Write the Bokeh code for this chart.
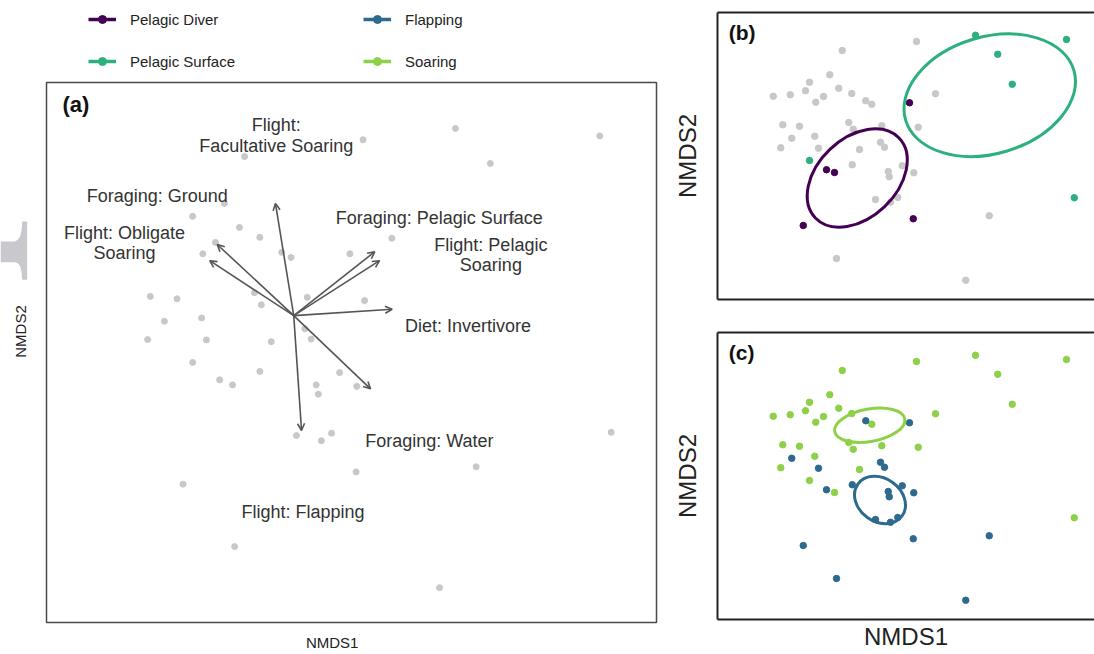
from bokeh.plotting import figure
from bokeh.models import (ColumnDataSource, Range1d, Legend, LegendItem, Arrow, OpenHead,
                          FixedTicker, LinearAxis)
from bokeh.layouts import row, column
from bokeh.core.properties import value
from bokeh.embed import file_html
from bokeh.resources import INLINE
import math

FONT = "Liberation Sans"

# ---------------- Panel (a): species scores + trait vectors ----------------
a_nmds1 = [0.231, -0.164, -0.231, -0.337, -0.181, -0.113, -0.261, -0.303, -0.040, -0.009,
           0.187, -0.478, -0.389, -0.131, -0.108, 0.045, 0.236, -0.307, -0.431, 0.037,
           -0.487, -0.291, -0.075, 0.058, 0.539, 1.020, 0.655, 0.728, 0.327, -0.337,
           -0.247, -0.204, -0.113, 0.153, 0.075, 0.082, 0.210, 0.009, 0.092, 0.126,
           0.208, -0.369, -0.197, 1.058, 0.608, 0.486]
a_nmds2 = [0.586, 0.530, 0.374, 0.331, 0.294, 0.261, 0.244, 0.206, 0.211, 0.194,
           0.206, 0.064, 0.056, 0.076, 0.036, 0.061, 0.050, -0.008, -0.019, -0.044,
           -0.080, -0.081, -0.087, -0.078, 0.624, 0.599, 0.507, 0.319, 0.258, -0.156,
           -0.214, -0.231, -0.186, -0.190, -0.231, -0.262, -0.236, -0.400, -0.417, -0.392,
           -0.521, -0.562, -0.770, -0.389, -0.504, -0.907]

vec_names = ["Flight:\nFacultative Soaring", "Foraging: Ground", "Flight: Obligate\nSoaring",
             "Foraging: Pelagic Surface", "Flight: Pelagic\nSoaring", "Diet: Invertivore",
             "Foraging: Water", "Flight: Flapping"]
vec_nmds1 = [-0.061, -0.255, -0.280, 0.270, 0.286, 0.328, 0.256, 0.026]
vec_nmds2 = [0.374, 0.237, 0.183, 0.213, 0.183, 0.021, -0.244, -0.383]
vec_label_x = [-0.058, -0.455, -0.564, 0.485, 0.657, 0.581, 0.452, 0.031]
vec_label_y = [0.600, 0.400, 0.243, 0.327, 0.203, -0.033, -0.417, -0.653]

# ---------------- Panels (b) and (c): same ordination, two groupings ----------------
bc_nmds1 = [0.064, -0.233, -0.283, -0.364, -0.380, -0.247, -0.195, -0.509, -0.441, -0.308,
            -0.339, -0.139, -0.115, 0.140, -0.471, -0.404, -0.207, -0.189, -0.075, 0.071,
            -0.435, -0.343, -0.479, -0.328, -0.164, -0.080, -0.064, -0.193, 0.007, 0.053,
            -0.049, -0.045, -0.100, -0.040, -0.011, 0.355, -0.256, 0.261, 0.036, -0.296,
            -0.264, -0.389, 0.051, 0.300, 0.664, 0.389, 0.447, -0.364, 0.695]
bc_nmds2 = [0.456, 0.420, 0.323, 0.293, 0.259, 0.269, 0.248, 0.237, 0.243, 0.236,
            0.213, 0.219, 0.205, 0.247, 0.123, 0.117, 0.132, 0.105, 0.119, 0.113,
            0.069, 0.077, 0.031, 0.029, 0.024, 0.053, 0.033, -0.037, -0.041, -0.069,
            -0.064, -0.085, -0.176, -0.187, -0.168, -0.241, -0.412, -0.499, 0.211, -0.057,
            -0.068, -0.280, -0.253, 0.481, 0.464, 0.405, 0.285, -0.020, -0.169]
# O = other, D = Pelagic Diver, S = Pelagic Surface
bc_diet = ["O", "O", "O", "O", "O", "O", "O", "O", "O", "O",
           "O", "O", "O", "O", "O", "O", "O", "O", "O", "O",
           "O", "O", "O", "O", "O", "O", "O", "O", "O", "O",
           "O", "O", "O", "O", "O", "O", "O", "O", "D", "D",
           "D", "D", "D", "S", "S", "S", "S", "S", "S"]
# F = Flapping, S = Soaring
bc_flight = ["S", "S", "S", "S", "S", "S", "S", "S", "S", "S",
             "S", "F", "S", "S", "S", "S", "S", "S", "S", "S",
             "F", "S", "S", "F", "S", "F", "F", "F", "F", "F",
             "F", "F", "F", "F", "F", "F", "F", "F", "F", "F",
             "S", "F", "F", "S", "S", "S", "S", "S", "S"]

diet_groups = ["Pelagic Diver", "Pelagic Surface"]
diet_codes = ["D", "S"]
diet_ell_x = [-0.173, 0.357]
diet_ell_y = [-0.090, 0.241]
diet_ell_w = [0.463, 0.702]
diet_ell_h = [0.317, 0.467]
diet_ell_angle = [0.763, 0.288]

flight_groups = ["Soaring", "Flapping"]
flight_codes = ["S", "F"]
flight_ell_x = [-0.123, -0.082]
flight_ell_y = [0.201, -0.098]
flight_ell_w = [0.285, 0.218]
flight_ell_h = [0.130, 0.173]
flight_ell_angle = [0.178, -0.625]

legend_col1 = ["Pelagic Diver", "Pelagic Surface"]
legend_col2 = ["Flapping", "Soaring"]

COLORS = {"Pelagic Diver": "#440154", "Pelagic Surface": "#2DB07E",
          "Flapping": "#2E6A8E", "Soaring": "#8CD147"}
GREY = "#C8C8C8"
TXT = "#222222"


def no_tick_axis(**kw):
    return LinearAxis(ticker=FixedTicker(ticks=[]), major_tick_out=0, major_tick_in=0,
                      minor_tick_out=0, minor_tick_in=0, major_label_standoff=0, **kw)


def bare(width, height, xr, yr, **kw):
    p = figure(width=width, height=height, x_range=xr, y_range=yr,
               toolbar_location=None, output_backend="svg", x_axis_type=None, y_axis_type=None, **kw)
    p.grid.visible = False
    p.outline_line_color = None
    return p


LEFT_W = 670

# ---------------- Legend strip ----------------
leg = bare(LEFT_W, 80, Range1d(0, 1), Range1d(0, 1), min_border=0)


def leg_item(name):
    c = COLORS[name]
    l = leg.line(x=[5, 6], y=[5, 5], line_color=c, line_width=3.5)
    s = leg.scatter(x=[5], y=[5], color=c, size=6)
    return LegendItem(label=name, renderers=[l, s])


for names, loc in ((legend_col1, (88, 9)), (legend_col2, (363, 9))):
    lg = Legend(items=[leg_item(n) for n in names], location=loc, orientation="vertical",
                glyph_width=28, glyph_height=20, label_height=20, spacing=22,
                padding=0, margin=0, border_line_color=None, background_fill_alpha=0,
                label_text_font=FONT, label_text_font_size="15px", label_text_color=TXT,
                label_standoff=14)
    leg.add_layout(lg, "center")

# ---------------- Left decoration strip (y-label of panel a) ----------------
deco = bare(38, 574, Range1d(0, 38), Range1d(574, 0), min_border=0)
deco.patch([0, 14, 17, 19.5, 21, 21.7, 26.7, 26.7, 21.7, 21, 19.5, 17, 14, 0],
           [161, 161, 159.5, 156, 150, 141, 141, 199.3, 199.3, 191, 185.5, 182.5, 181.7, 181.7],
           fill_color="#C9C9CD", line_color=None)
deco.text(x=[20], y=[251], text=["NMDS2"], angle=math.pi / 2, text_font=value(FONT),
          text_font_size="15px", text_color=TXT, text_align="center", text_baseline="middle")

# ---------------- Panel (a) ----------------
PA_W = LEFT_W - 38
pa = bare(PA_W, 544, Range1d(-0.824, 1.209), Range1d(-1.023, 0.777),
          min_border_left=8, min_border_right=PA_W - 8 - 610, min_border_top=2, min_border_bottom=2)
pa.outline_line_color = "#4a4a4a"
pa.outline_line_width = 1.5

pa.scatter(a_nmds1, a_nmds2, size=6, color=GREY)

vsrc = ColumnDataSource(dict(x1=vec_nmds1, y1=vec_nmds2, lx=vec_label_x, ly=vec_label_y, name=vec_names))
pa.add_layout(Arrow(x_start=0, y_start=0, x_end="x1", y_end="y1", source=vsrc,
                    line_color="#555555", line_width=1.6,
                    end=OpenHead(size=7, line_color="#555555", line_width=1.6)))
pa.text(x="lx", y="ly", text="name", source=vsrc, text_font=value(FONT), text_font_size="18px",
        text_color="#333333", text_align="center", text_baseline="middle", text_line_height=1.02)
pa.text(x=[-0.771], y=[0.745], text=["(a)"], text_font=value(FONT), text_font_size="22px",
        text_font_style="bold", text_color="#111111", text_align="left", text_baseline="top")

# strip under panel (a) carrying its x-axis title
xstrip = bare(PA_W, 30, Range1d(0, PA_W), Range1d(30, 0), min_border=0)
xstrip.text(x=[296], y=[18], text=["NMDS1"], text_font=value(FONT), text_font_size="15px",
            text_color=TXT, text_align="center", text_baseline="middle")


# ---------------- Panels (b) and (c) ----------------
RIGHT_W = 1094 - LEFT_W


def make_bc(height, top, bottom, xlabel, tag, groups, codes, membership, ex, ey, ew, eh, ea):
    p = bare(RIGHT_W, height, Range1d(-0.732, 0.776), Range1d(-0.576, 0.572),
             min_border_left=47, min_border_right=0, min_border_top=top, min_border_bottom=bottom)
    common = dict(axis_line_color="#222222", axis_line_width=2,
                  axis_label_text_font=FONT, axis_label_text_font_size="24px",
                  axis_label_text_font_style="normal", axis_label_text_color=TXT)
    p.add_layout(no_tick_axis(axis_label="NMDS2", axis_label_standoff=17, **common), "left")
    p.add_layout(no_tick_axis(axis_label=xlabel, axis_label_standoff=3, **common), "below")
    p.add_layout(no_tick_axis(**common), "above")

    other_x = [x for x, m in zip(bc_nmds1, membership) if m not in codes]
    other_y = [y for y, m in zip(bc_nmds2, membership) if m not in codes]
    if other_x:
        p.scatter(other_x, other_y, size=6.5, color=GREY)
    for g, c in zip(groups, codes):
        gx = [x for x, m in zip(bc_nmds1, membership) if m == c]
        gy = [y for y, m in zip(bc_nmds2, membership) if m == c]
        p.scatter(gx, gy, size=6.5, color=COLORS[g])
    esrc = ColumnDataSource(dict(x=ex, y=ey, w=ew, h=eh, a=ea, c=[COLORS[g] for g in groups]))
    p.ellipse(x="x", y="y", width="w", height="h", angle="a", source=esrc,
              fill_color=None, line_color="c", line_width=3)
    p.text(x=[-0.687], y=[0.540], text=[tag], text_font=value(FONT), text_font_size="21px",
           text_font_style="bold", text_color="#111111", text_align="left", text_baseline="top")
    return p


pb = make_bc(315, 12, 16, "", "(b)", diet_groups, diet_codes, bc_diet,
             diet_ell_x, diet_ell_y, diet_ell_w, diet_ell_h, diet_ell_angle)
pc = make_bc(339, 17, 35, "NMDS1", "(c)", flight_groups, flight_codes, bc_flight,
             flight_ell_x, flight_ell_y, flight_ell_w, flight_ell_h, flight_ell_angle)

layout = row(column(leg, row(deco, column(pa, xstrip))), column(pb, pc))
open("out.html", "w").write(file_html(layout, INLINE))
